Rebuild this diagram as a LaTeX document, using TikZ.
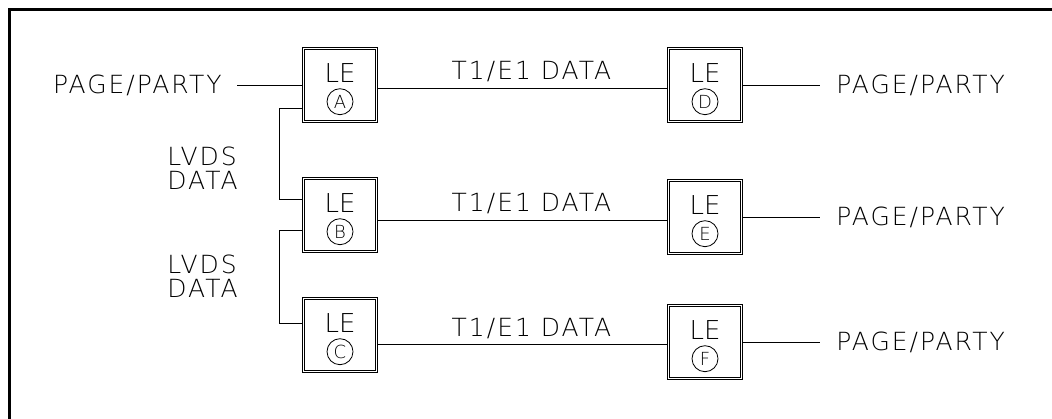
\documentclass[tikz,border=0pt]{standalone}
\usepackage{fontspec}
\setmainfont{DejaVu Sans ExtraLight}
\newfontfamily\cadfont[LetterSpace=8]{DejaVu Sans ExtraLight}
\usetikzlibrary{positioning}

\begin{document}
\begin{tikzpicture}[
        x=1pt, y=-1pt,
        line width=0.8pt,
        lebox/.style={
          draw, double, double distance=1.5pt, minimum width=73pt, minimum height=73pt, inner sep=0pt, outer sep=1.55pt
        },
        lename/.style={
          anchor=base, inner sep=0pt, font=\fontsize{26}{26}\selectfont
        },
        leid/.style={
          draw, circle, minimum size=26pt, inner sep=0pt, font=\fontsize{18}{18}\selectfont
        },
        textlabel/.style={
          inner sep=0pt, text height=18pt, text depth=0pt, font=\cadfont\fontsize{25}{24}\selectfont
        },
        lvdslabel/.style={
          inner sep=0pt, align=left, anchor=north west, font=\cadfont\fontsize{25}{23.5}\selectfont
        },
      ]
        \useasboundingbox (0,0) rectangle (1052,419);

        % frame
        \draw [line width=3pt] (9.5,419) -- (9.5,9.5) -- (1052,9.5);

        % LE boxes
        \node [lebox] (le_a) at (340,85) {};
        \node [lebox] (le_b) at (340,215) {};
        \node [lebox] (le_c) at (340,335) {};
        \node [lebox] (le_d) at (705,85) {};
        \node [lebox] (le_e) at (705,217) {};
        \node [lebox] (le_f) at (705,342) {};

        % box texts
        \node [lename] (le_a_name) at ([yshift=2.7pt]le_a.center) {LE};
        \node [leid] (le_a_id) at ([yshift=-16.7pt]le_a.center) {A};
        \node [lename] (le_b_name) at ([yshift=2.7pt]le_b.center) {LE};
        \node [leid] (le_b_id) at ([yshift=-16.7pt]le_b.center) {B};
        \node [lename] (le_c_name) at ([yshift=2.7pt]le_c.center) {LE};
        \node [leid] (le_c_id) at ([yshift=-16.7pt]le_c.center) {C};
        \node [lename] (le_d_name) at ([yshift=2.7pt]le_d.center) {LE};
        \node [leid] (le_d_id) at ([yshift=-16.7pt]le_d.center) {D};
        \node [lename] (le_e_name) at ([yshift=2.7pt]le_e.center) {LE};
        \node [leid] (le_e_id) at ([yshift=-16.7pt]le_e.center) {E};
        \node [lename] (le_f_name) at ([yshift=2.7pt]le_f.center) {LE};
        \node [leid] (le_f_id) at ([yshift=-16.7pt]le_f.center) {F};

        % PAGE/PARTY labels
        \node [textlabel, anchor=east] (party_a) at (222,85) {PAGE/PARTY};
        \node [textlabel, anchor=west] (party_d) at (836,85) {PAGE/PARTY};
        \node [textlabel, anchor=west] (party_e) at (836,217) {PAGE/PARTY};
        \node [textlabel, anchor=west] (party_f) at (836,342) {PAGE/PARTY};

        \draw ([xshift=15pt]party_a.east) -- (le_a.west);
        \draw (le_d.east) -- ([xshift=-16pt]party_d.west);
        \draw (le_e.east) -- ([xshift=-16pt]party_e.west);
        \draw (le_f.east) -- ([xshift=-16pt]party_f.west);

        % T1/E1 links
        \draw ([yshift=-3pt]le_a.east) -- ([yshift=-3pt]le_d.west);
        \draw ([yshift=-5pt]le_b.east) -- ([yshift=-3pt]le_e.west);
        \draw ([yshift=-9.5pt]le_c.east) -- ([yshift=-2.5pt]le_f.west);
        \node [textlabel, anchor=base] (data_ad) at (531.5,80) {T1/E1 DATA};
        \node [textlabel, anchor=base] (data_be) at (531.5,211.5) {T1/E1 DATA};
        \node [textlabel, anchor=base] (data_cf) at (531.5,336.5) {T1/E1 DATA};

        % LVDS links
        \draw ([yshift=-23pt]le_a.west) -- ++(-23pt,0) |- ([yshift=16pt]le_b.west);
        \draw ([yshift=-15pt]le_b.west) -- ++(-23pt,0) |- ([yshift=12pt]le_c.west);
        \node [lvdslabel] (lvds_ab) at (167,147) {LVDS\\DATA};
        \node [lvdslabel] (lvds_bc) at (167,255) {LVDS\\DATA};

      \end{tikzpicture}
\end{document}
